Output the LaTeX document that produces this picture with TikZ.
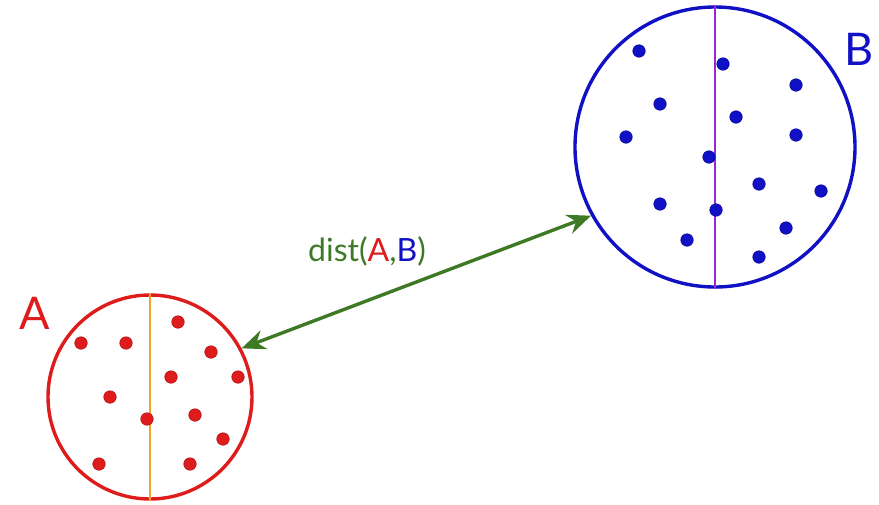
\documentclass[tikz,border=0pt]{standalone}
\usepackage{fontspec}
\setmainfont{Lato}
\usepackage{tikz}
\usetikzlibrary{positioning, arrows.meta, calc}

\definecolor{setred}{RGB}{222,28,28}
\definecolor{setblue}{RGB}{16,16,196}
\definecolor{cutorange}{RGB}{240,165,40}
\definecolor{cutpurple}{RGB}{150,40,220}
\definecolor{distgreen}{RGB}{62,122,38}

\begin{document}
\begin{tikzpicture}[
        x=1pt, y=-1pt,
        set/.style={circle, draw, line width=3.4pt, inner sep=0pt},
        pt/.style={circle, inner sep=0pt, minimum size=12.5pt, line width=0.6pt},
        setname/.style={font=\fontsize{45}{45}\selectfont}
      ]
      \useasboundingbox (0,0) rectangle (879,504);

      % the two sets
      \node[set, draw=setred, minimum size=204pt] (A) at (150,397) {};
      \node[set, draw=setblue, minimum size=280pt] (B) at (715,147) {};

      % splitting lines
      \draw[cutorange, line width=2.5pt] (A.north) -- (A.south);
      \draw[cutpurple, line width=2.5pt] (B.north) -- (B.south);

      % points of A
      \foreach \x/\y [count=\i] in {81/343, 126/343, 178/322, 211/352, 171/377, 238/377,
                                  110/397, 147/419, 195/415, 223/439, 99/464, 190/464}
        \node[pt, fill=setred, draw=setred!80!black] (a\i) at (\x,\y) {};

      % points of B
      \foreach \x/\y [count=\i] in {639/51, 723/64, 796/85, 660/104, 736/117, 626/137,
                                  796/135, 709/157, 759/184, 821/191, 660/204, 716/210,
                                  786/228, 687/240, 759/257}
        \node[pt, fill=setblue, draw=setblue!80!black] (b\i) at (\x,\y) {};

      % names
      \node[setname, text=setred] (nameA) at (35,313) {A};
      \node[setname, text=setblue] (nameB) at (859,49) {B};

      % distance
      \draw[distgreen, line width=3.4pt, {Stealth[length=24pt, width=20pt, inset=8pt]}-{Stealth[length=24pt, width=20pt, inset=8pt]}]
        (A.28) -- (B.209);
      \node[text=distgreen, font=\fontsize{32}{32}\selectfont] (dist) at (367,251)
        {dist(\textcolor{setred}{A},\textcolor{setblue}{B})};
\end{tikzpicture}
\end{document}
